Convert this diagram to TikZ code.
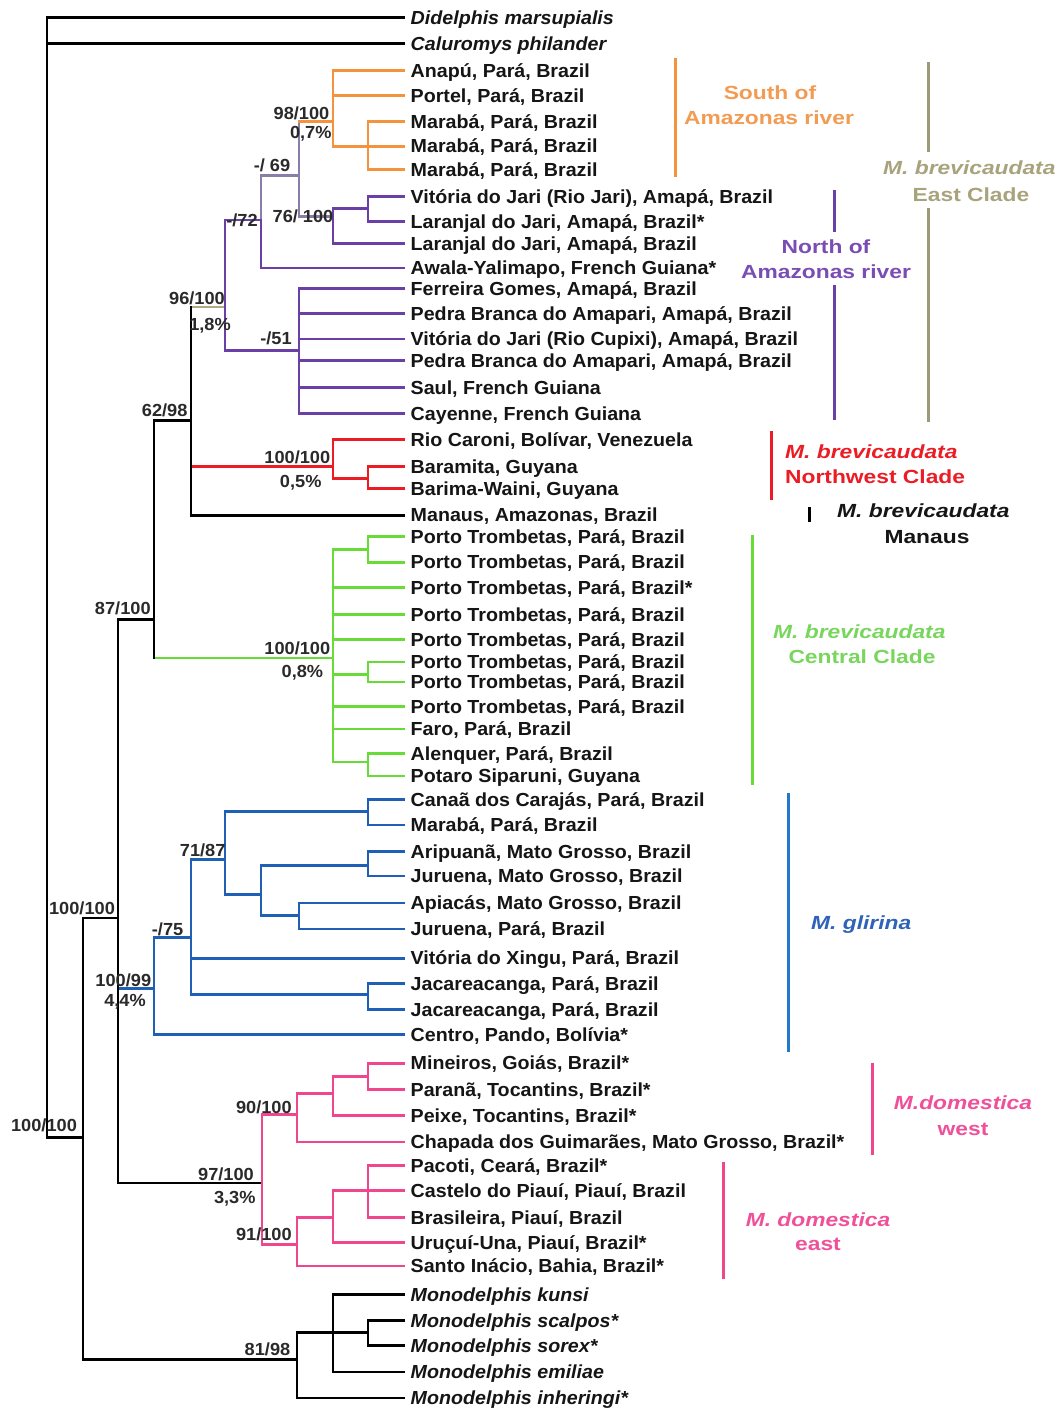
\documentclass[tikz,border=0pt]{standalone}
\usepackage{fontspec}
\newfontfamily\leaffont[FakeStretch=1.04]{Liberation Sans}
\newfontfamily\cladefont[FakeStretch=1.2]{Liberation Sans}
\definecolor{cOrange}{HTML}{F5923E}
\definecolor{cOrangeT}{HTML}{F29B52}
\definecolor{cPurple}{HTML}{6A3FA6}
\definecolor{cPurpleT}{HTML}{7A4DB5}
\definecolor{cGrayP}{HTML}{8A7DAA}
\definecolor{cKhaki}{HTML}{B2AA82}
\definecolor{cKhakiBar}{HTML}{9C9A78}
\definecolor{cKhakiT}{HTML}{A8A37C}
\definecolor{cRed}{HTML}{EC1C24}
\definecolor{cGreen}{HTML}{68DC36}
\definecolor{cGreenT}{HTML}{78D65C}
\definecolor{cBlue}{HTML}{1F5FB6}
\definecolor{cBlueBar}{HTML}{2379C9}
\definecolor{cBlueT}{HTML}{2F63B8}
\definecolor{cPink}{HTML}{F0468E}
\definecolor{cPinkT}{HTML}{F0509A}
\definecolor{cText}{HTML}{151515}
\definecolor{cLab}{HTML}{2A2A2A}
\newcommand\tedge[3]{\draw[br,#1] (#2 |- #3) -- (#3);}
\newcommand\tvert[4]{\draw[br,#1] (#2 |- #3) -- (#2 |- #4);}
\begin{document}
\begin{tikzpicture}[x=1pt,y=-1pt,
  br/.style={line width=2.8pt, line cap=rect},
  leaf/.style={anchor=west, inner xsep=6.5pt, inner ysep=0pt, text height=13.5pt, text depth=0pt,
    text=cText, font=\leaffont\bfseries\fontsize{18.9}{20}\selectfont},
  supp/.style={inner sep=0pt, text height=12.5pt, text depth=0pt, text=cLab,
    font=\leaffont\bfseries\fontsize{17.5}{18}\selectfont},
  clade/.style={inner sep=0pt, font=\cladefont\bfseries\fontsize{19}{22}\selectfont},
  cbar/.style={line width=3pt}]
\useasboundingbox (0,0) rectangle (1057,1410);
\fill[white] (0,0) rectangle (1057,1410);

\begin{scope}[yscale=0.994]
% ---------------- leaves ----------------
\node[leaf] (L1) at (404,17.6) {\itshape Didelphis marsupialis};
\node[leaf] (L2) at (404,43.9) {\itshape Caluromys philander};
\node[leaf] (L3) at (404,71) {Anapú, Pará, Brazil};
\node[leaf] (L4) at (404,96.3) {Portel, Pará, Brazil};
\node[leaf] (L5) at (404,122.6) {Marabá, Pará, Brazil};
\node[leaf] (L6) at (404,147) {Marabá, Pará, Brazil};
\node[leaf] (L7) at (404,170.6) {Marabá, Pará, Brazil};
\node[leaf] (L8) at (404,197.6) {Vitória do Jari (Rio Jari), Amapá, Brazil};
\node[leaf] (L9) at (404,223) {Laranjal do Jari, Amapá, Brazil*};
\node[leaf] (L10) at (404,245) {Laranjal do Jari, Amapá, Brazil};
\node[leaf] (L11) at (404,269.6) {Awala-Yalimapo, French Guiana*};
\node[leaf] (L12) at (404,290.3) {Ferreira Gomes, Amapá, Brazil};
\node[leaf] (L13) at (404,315.6) {Pedra Branca do Amapari, Amapá, Brazil};
\node[leaf] (L14) at (404,341) {Vitória do Jari (Rio Cupixi), Amapá, Brazil};
\node[leaf] (L15) at (404,362.9) {Pedra Branca do Amapari, Amapá, Brazil};
\node[leaf] (L16) at (404,390) {Saul, French Guiana};
\node[leaf] (L17) at (404,416) {Cayenne, French Guiana};
\node[leaf] (L18) at (404,442.3) {Rio Caroni, Bolívar, Venezuela};
\node[leaf] (L19) at (404,469.3) {Baramita, Guyana};
\node[leaf] (L20) at (404,491.3) {Barima-Waini, Guyana};
\node[leaf] (L21) at (404,518.3) {Manaus, Amazonas, Brazil};
\node[leaf] (L22) at (404,539.6) {Porto Trombetas, Pará, Brazil};
\node[leaf] (L23) at (404,565.6) {Porto Trombetas, Pará, Brazil};
\node[leaf] (L24) at (404,591) {Porto Trombetas, Pará, Brazil*};
\node[leaf] (L25) at (404,618.6) {Porto Trombetas, Pará, Brazil};
\node[leaf] (L26) at (404,643.3) {Porto Trombetas, Pará, Brazil};
\node[leaf] (L27) at (404,666) {Porto Trombetas, Pará, Brazil};
\node[leaf] (L28) at (404,686.2) {Porto Trombetas, Pará, Brazil};
\node[leaf] (L29) at (404,710.9) {Porto Trombetas, Pará, Brazil};
\node[leaf] (L30) at (404,733.5) {Faro, Pará, Brazil};
\node[leaf] (L31) at (404,758.2) {Alenquer, Pará, Brazil};
\node[leaf] (L32) at (404,780.8) {Potaro Siparuni, Guyana};
\node[leaf] (L33) at (404,804.3) {Canaã dos Carajás, Pará, Brazil};
\node[leaf] (L34) at (404,830) {Marabá, Pará, Brazil};
\node[leaf] (L35) at (404,857) {Aripuanã, Mato Grosso, Brazil};
\node[leaf] (L36) at (404,881.4) {Juruena, Mato Grosso, Brazil};
\node[leaf] (L37) at (404,908.4) {Apiacás, Mato Grosso, Brazil};
\node[leaf] (L38) at (404,934.7) {Juruena, Pará, Brazil};
\node[leaf] (L39) at (404,964) {Vitória do Xingu, Pará, Brazil};
\node[leaf] (L40) at (404,989.5) {Jacareacanga, Pará, Brazil};
\node[leaf] (L41) at (404,1015.8) {Jacareacanga, Pará, Brazil};
\node[leaf] (L42) at (404,1041) {Centro, Pando, Bolívia*};
\node[leaf] (L43) at (404,1069.6) {Mineiros, Goiás, Brazil*};
\node[leaf] (L44) at (404,1096.3) {Paranã, Tocantins, Brazil*};
\node[leaf] (L45) at (404,1122.6) {Peixe, Tocantins, Brazil*};
\node[leaf] (L46) at (404,1149) {Chapada dos Guimarães, Mato Grosso, Brazil*};
\node[leaf] (L47) at (404,1172.3) {Pacoti, Ceará, Brazil*};
\node[leaf] (L48) at (404,1197.6) {Castelo do Piauí, Piauí, Brazil};
\node[leaf] (L49) at (404,1225) {Brasileira, Piauí, Brazil};
\node[leaf] (L50) at (404,1250.3) {Uruçuí-Una, Piauí, Brazil*};
\node[leaf] (L51) at (404,1273.6) {Santo Inácio, Bahia, Brazil*};
\node[leaf] (L52) at (404,1302.7) {\itshape Monodelphis kunsi};
\node[leaf] (L53) at (404,1328.7) {\itshape Monodelphis scalpos*};
\node[leaf] (L54) at (404,1354) {\itshape Monodelphis sorex*};
\node[leaf] (L55) at (404,1380.4) {\itshape Monodelphis emiliae};
\node[leaf] (L56) at (404,1406.4) {\itshape Monodelphis inheringi*};

% ---------------- internal nodes ----------------
\coordinate (R) at (47,17.6);
\coordinate (A) at (83,1144.6);
\coordinate (B) at (118,923.6);
\coordinate (C87) at (154,623);
\coordinate (C62) at (191,422.7);
\coordinate (C96) at (225,308.9);
\coordinate (C72) at (261,221.3);
\coordinate (C69) at (299,176.4);
\coordinate (CO) at (333,122.6);
\coordinate (CM) at (368,147);
\coordinate (C76) at (333,218);
\coordinate (CV) at (368,209.5);
\coordinate (C51) at (299,352.8);
\coordinate (CR) at (333,469.3);
\coordinate (CB) at (368,481.2);
\coordinate (CG) at (333,661.9);
\coordinate (G1) at (368,552.8);
\coordinate (G2) at (368,678.8);
\coordinate (G3) at (368,766.6);
\coordinate (GL) at (154,994.5);
\coordinate (C75) at (191,942.8);
\coordinate (C71) at (225,865.1);
\coordinate (CC) at (368,816.5);
\coordinate (GL2) at (261,899.9);
\coordinate (CA) at (368,870.5);
\coordinate (CP) at (299,921.2);
\coordinate (CJ) at (368,1000.3);
\coordinate (DOM) at (262,1190.2);
\coordinate (C90) at (297,1121);
\coordinate (W1) at (333,1100);
\coordinate (W2) at (368,1082.8);
\coordinate (C91) at (297,1252);
\coordinate (E1) at (333,1225);
\coordinate (E2) at (368,1197.6);
\coordinate (OUT) at (297,1367.6);
\coordinate (O1) at (333,1340.5);
\coordinate (O2) at (368,1340.5);

% ---------------- branches ----------------
\tedge{black}{R}{L1.west}\tedge{black}{R}{L2.west}\tedge{black}{R}{A}
\tvert{black}{R}{L1.west}{A}
\tedge{black}{A}{B}\tedge{black}{A}{OUT}
\tvert{black}{A}{B}{OUT}
\tedge{black}{B}{C87}\tedge{cBlue}{B}{GL}\tedge{black}{B}{DOM}
\tvert{black}{B}{C87}{DOM}
\tedge{black}{C87}{C62}\tedge{cGreen}{C87}{CG}
\tvert{black}{C87}{C62}{CG}
\tedge{cKhaki}{C62}{C96}\tedge{cRed}{C62}{CR}\tedge{black}{C62}{L21.west}
\tvert{black}{C62}{C96}{L21.west}
% north / south of Amazonas
\tvert{cPurple}{C96}{C72}{C51}
\tedge{cPurple}{C96}{C72}\tedge{cPurple}{C96}{C51}
\tvert{cGrayP}{C72}{C69}{C72}
\tvert{cPurple}{C72}{C72}{L11.west}
\tedge{cGrayP}{C72}{C69}\tedge{cPurple}{C72}{L11.west}
\tvert{cGrayP}{C69}{CO}{C76}
\tedge{cOrange}{C69}{CO}\tedge{cGrayP}{C69}{C76}
\tvert{cOrange}{CO}{L3.west}{CM}
\tedge{cOrange}{CO}{L3.west}\tedge{cOrange}{CO}{L4.west}\tedge{cOrange}{CO}{CM}
\tvert{cOrange}{CM}{L5.west}{L7.west}
\tedge{cOrange}{CM}{L5.west}\tedge{cOrange}{CM}{L6.west}\tedge{cOrange}{CM}{L7.west}
\tvert{cPurple}{C76}{CV}{L10.west}
\tedge{cPurple}{C76}{CV}\tedge{cPurple}{C76}{L10.west}
\tvert{cPurple}{CV}{L8.west}{L9.west}
\tedge{cPurple}{CV}{L8.west}\tedge{cPurple}{CV}{L9.west}
\tvert{cPurple}{C51}{L12.west}{L17.west}
\tedge{cPurple}{C51}{L12.west}\tedge{cPurple}{C51}{L13.west}\tedge{cPurple}{C51}{L14.west}
\tedge{cPurple}{C51}{L15.west}\tedge{cPurple}{C51}{L16.west}\tedge{cPurple}{C51}{L17.west}
% northwest clade
\tvert{cRed}{CR}{L18.west}{CB}
\tedge{cRed}{CR}{L18.west}\tedge{cRed}{CR}{CB}
\tvert{cRed}{CB}{L19.west}{L20.west}
\tedge{cRed}{CB}{L19.west}\tedge{cRed}{CB}{L20.west}
% central clade
\tvert{cGreen}{CG}{G1}{G3}
\tedge{cGreen}{CG}{G1}\tedge{cGreen}{CG}{L24.west}\tedge{cGreen}{CG}{L25.west}
\tedge{cGreen}{CG}{L26.west}\tedge{cGreen}{CG}{G2}\tedge{cGreen}{CG}{L29.west}
\tedge{cGreen}{CG}{L30.west}\tedge{cGreen}{CG}{G3}
\tvert{cGreen}{G1}{L22.west}{L23.west}
\tedge{cGreen}{G1}{L22.west}\tedge{cGreen}{G1}{L23.west}
\tvert{cGreen}{G2}{L27.west}{L28.west}
\tedge{cGreen}{G2}{L27.west}\tedge{cGreen}{G2}{L28.west}
\tvert{cGreen}{G3}{L31.west}{L32.west}
\tedge{cGreen}{G3}{L31.west}\tedge{cGreen}{G3}{L32.west}
% M. glirina
\tvert{cBlue}{GL}{C75}{L42.west}
\tedge{cBlue}{GL}{C75}\tedge{cBlue}{GL}{L42.west}
\tvert{cBlue}{C75}{C71}{CJ}
\tedge{cBlue}{C75}{C71}\tedge{cBlue}{C75}{L39.west}\tedge{cBlue}{C75}{CJ}
\tvert{cBlue}{C71}{CC}{GL2}
\tedge{cBlue}{C71}{CC}\tedge{cBlue}{C71}{GL2}
\tvert{cBlue}{CC}{L33.west}{L34.west}
\tedge{cBlue}{CC}{L33.west}\tedge{cBlue}{CC}{L34.west}
\tvert{cBlue}{GL2}{CA}{CP}
\tedge{cBlue}{GL2}{CA}\tedge{cBlue}{GL2}{CP}
\tvert{cBlue}{CA}{L35.west}{L36.west}
\tedge{cBlue}{CA}{L35.west}\tedge{cBlue}{CA}{L36.west}
\tvert{cBlue}{CP}{L37.west}{L38.west}
\tedge{cBlue}{CP}{L37.west}\tedge{cBlue}{CP}{L38.west}
\tvert{cBlue}{CJ}{L40.west}{L41.west}
\tedge{cBlue}{CJ}{L40.west}\tedge{cBlue}{CJ}{L41.west}
% M. domestica
\tvert{cPink}{DOM}{C90}{C91}
\tedge{cPink}{DOM}{C90}\tedge{cPink}{DOM}{C91}
\tvert{cPink}{C90}{W1}{L46.west}
\tedge{cPink}{C90}{W1}\tedge{cPink}{C90}{L46.west}
\tvert{cPink}{W1}{W2}{L45.west}
\tedge{cPink}{W1}{W2}\tedge{cPink}{W1}{L45.west}
\tvert{cPink}{W2}{L43.west}{L44.west}
\tedge{cPink}{W2}{L43.west}\tedge{cPink}{W2}{L44.west}
\tvert{cPink}{C91}{E1}{L51.west}
\tedge{cPink}{C91}{E1}\tedge{cPink}{C91}{L51.west}
\tvert{cPink}{E1}{E2}{L50.west}
\tedge{cPink}{E1}{E2}\tedge{cPink}{E1}{L50.west}
\tvert{cPink}{E2}{L47.west}{L49.west}
\tedge{cPink}{E2}{L47.west}\tedge{cPink}{E2}{L48.west}\tedge{cPink}{E2}{L49.west}
% outgroup Monodelphis
\tvert{black}{OUT}{O1}{L56.west}
\tedge{black}{OUT}{O1}\tedge{black}{OUT}{L56.west}
\tvert{black}{O1}{L52.west}{L55.west}
\tedge{black}{O1}{L52.west}\tedge{black}{O1}{O2}\tedge{black}{O1}{L55.west}
\tvert{black}{O2}{L53.west}{L54.west}
\tedge{black}{O2}{L53.west}\tedge{black}{O2}{L54.west}

% ---------------- support values ----------------
\node[supp] (s1) at (301.5,113.7) {98/100};
\node[supp] (s1b) at (310.8,133) {0,7\%};
\node[supp] (s2) at (272,166.4) {-/ 69};
\node[supp] (s3) at (303,218) {76/ 100};
\node[supp] (s4) at (242,221.7) {-/72};
\node[supp] (s5) at (197,300) {96/100};
\node[supp] (s5b) at (210,326.6) {1,8\%};
\node[supp] (s6) at (276,339.8) {-/51};
\node[supp] (s7) at (164.7,412.7) {62/98};
\node[supp] (s8) at (297.3,460.3) {100/100};
\node[supp] (s8b) at (300.7,483.7) {0,5\%};
\node[supp] (s9) at (122.8,612.3) {87/100};
\node[supp] (s10) at (297.3,652) {100/100};
\node[supp] (s10b) at (302.4,675) {0,8\%};
\node[supp] (s11) at (202.7,855.4) {71/87};
\node[supp] (s12) at (82,913.5) {100/100};
\node[supp] (s13) at (167.6,934.5) {-/75};
\node[supp] (s14) at (123.3,986) {100/99};
\node[supp] (s14b) at (125,1006.4) {4,4\%};
\node[supp] (s15) at (263.9,1114) {90/100};
\node[supp] (s16) at (226,1181) {97/100};
\node[supp] (s16b) at (234.8,1204.3) {3,3\%};
\node[supp] (s17) at (263.9,1241.8) {91/100};
\node[supp] (s18) at (44,1132) {100/100};
\node[supp] (s19) at (267.5,1357.5) {81/98};
\end{scope}

% ---------------- clade bars and labels ----------------
\draw[cbar,cOrange] (675,58) coordinate (bo1) -- (675,177) coordinate (bo2);
\node[clade,text=cOrangeT,anchor=base] (tSo1) at (770,99.8) {South of};
\node[clade,text=cOrangeT,anchor=base] (tSo2) at (769,124.8) {Amazonas river};

\draw[cbar,cKhakiBar] (928,62) coordinate (bk1) -- (928,152) coordinate (bk2);
\draw[cbar,cKhakiBar] (928,208) coordinate (bk3) -- (928,422) coordinate (bk4);
\node[clade,text=cKhakiT,anchor=base west] (tEa1) at (883,174.8) {\itshape M. brevicaudata};
\node[clade,text=cKhakiT,anchor=base] (tEa2) at (971,201.8) {East Clade};

\draw[cbar,cPurple] (834,190) coordinate (bp1) -- (834,232) coordinate (bp2);
\draw[cbar,cPurple] (834,285) coordinate (bp3) -- (834,420) coordinate (bp4);
\node[clade,text=cPurpleT,anchor=base] (tNo1) at (826,253.8) {North of};
\node[clade,text=cPurpleT,anchor=base] (tNo2) at (826,278.8) {Amazonas river};

\draw[cbar,cRed] (771,431) coordinate (br1) -- (771,500) coordinate (br2);
\node[clade,text=cRed,anchor=base west] (tNw1) at (785,458.8) {\itshape M. brevicaudata};
\node[clade,text=cRed,anchor=base west] (tNw2) at (785,483.8) {Northwest Clade};

\draw[cbar,black] (809,507) coordinate (bm1) -- (809,522) coordinate (bm2);
\node[clade,text=cText,anchor=base west] (tMa1) at (837,517.8) {\itshape M. brevicaudata};
\node[clade,text=cText,anchor=base] (tMa2) at (927,543.8) {Manaus};

\draw[cbar,cGreen] (752,535) coordinate (bg1) -- (752,785) coordinate (bg2);
\node[clade,text=cGreenT,anchor=base west] (tCe1) at (773,638.8) {\itshape M. brevicaudata};
\node[clade,text=cGreenT,anchor=base] (tCe2) at (862,663.8) {Central Clade};

\draw[cbar,cBlueBar] (788,793) coordinate (bb1) -- (788,1052) coordinate (bb2);
\node[clade,text=cBlueT,anchor=base west] (tGl) at (811,929) {\itshape M. glirina};

\draw[cbar,cPink] (872,1063) coordinate (bw1) -- (872,1155) coordinate (bw2);
\node[clade,text=cPinkT,anchor=base] (tWe1) at (963,1109.8) {\itshape M.domestica};
\node[clade,text=cPinkT,anchor=base] (tWe2) at (963,1135.8) {west};

\draw[cbar,cPink] (723,1162) coordinate (be1) -- (723,1279) coordinate (be2);
\node[clade,text=cPinkT,anchor=base] (tEs1) at (818,1226.8) {\itshape M. domestica};
\node[clade,text=cPinkT,anchor=base] (tEs2) at (818,1250.8) {east};
\end{tikzpicture}
\end{document}
